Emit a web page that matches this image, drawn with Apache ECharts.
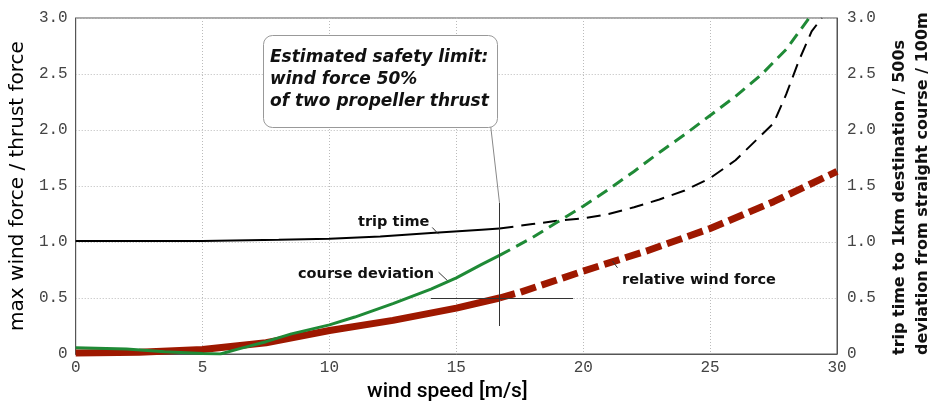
<!DOCTYPE html>
<html>
<head>
<meta charset="utf-8">
<script src="https://cdn.jsdelivr.net/npm/echarts@6/dist/echarts.min.js"></script>
<style>
  html, body { margin: 0; padding: 0; background: #fff; }
  #chart { width: 931px; height: 407px; }
</style>
</head>
<body>
<div id="chart"></div>
<script>
// values
var tripSpeed = [0, 5, 8, 10, 12, 14, 16, 16.7, 18, 19, 20, 21, 22, 23, 24, 25, 26, 27, 27.5, 28, 28.5, 29, 29.4];
var tripTime  = [1.01, 1.01, 1.02, 1.03, 1.05, 1.08, 1.11, 1.12, 1.16, 1.19, 1.21, 1.25, 1.31, 1.38, 1.46, 1.57, 1.73, 1.95, 2.06, 2.32, 2.62, 2.88, 3.0];

var devSpeed = [0, 2, 3.5, 5, 5.7, 6.5, 7.5, 8.5, 10, 11, 12.5, 14, 15, 16, 16.7, 18, 19, 20, 21, 22, 23, 24, 25, 26, 27, 28, 28.9];
var devValue = [0.055, 0.045, 0.02, 0.005, 0, 0.05, 0.11, 0.18, 0.26, 0.33, 0.45, 0.58, 0.68, 0.8, 0.88, 1.04, 1.18, 1.32, 1.47, 1.63, 1.8, 1.96, 2.13, 2.3, 2.49, 2.72, 3.0];

var forceSpeed = [0, 2.5, 5, 7.5, 10, 12.5, 15, 16.7, 17.5, 20, 22.5, 25, 27.5, 30];
var forceValue = [0.01, 0.015, 0.04, 0.1, 0.21, 0.3, 0.41, 0.5, 0.55, 0.74, 0.92, 1.12, 1.36, 1.63];

var limitSpeed = 16.7;   // solid up to here, dashed after
var xTicks = [0, 5, 10, 15, 20, 25, 30];

function part(xs, ys, solid) {
    var out = [];
    for (var i = 0; i < xs.length; i++) {
        if (solid ? xs[i] <= limitSpeed : xs[i] >= limitSpeed) out.push([xs[i], ys[i]]);
    }
    return out;
}

var green = '#1f8a36', red = '#9e1800';
var tickFont = { fontFamily: 'Liberation Mono', fontSize: 16, color: '#444' };

function yLabel(v) { return v === 0 ? '0' : v.toFixed(1); }

var chart = echarts.init(document.getElementById('chart'));
var option = {
    animation: false,
    grid: { left: 74, right: 94, top: 18, bottom: 50, show: true, borderColor: '#555', borderWidth: 1 },
    xAxis: {
        type: 'value', min: 0, max: 30, interval: 5,
        name: 'wind speed [m/s]', nameLocation: 'middle', nameGap: 27,
        nameTextStyle: { fontFamily: 'Roboto', fontWeight: 500, fontSize: 21, color: '#000', padding: [0, 18, 0, 0] },
        axisLine: { lineStyle: { color: '#555' } },
        axisTick: { show: false },
        axisLabel: Object.assign({ margin: 6, formatter: function (v) { return xTicks.indexOf(v) >= 0 ? String(v) : ''; } }, tickFont),
        splitLine: { lineStyle: { color: '#bbb', type: [1, 2] } }
    },
    yAxis: [{
        type: 'value', min: 0, max: 3, interval: 0.5,
        name: 'max wind force / thrust force', nameLocation: 'middle', nameGap: 47,
        nameTextStyle: { fontFamily: 'DejaVu Sans', fontSize: 20, color: '#000' },
        axisLine: { show: true, lineStyle: { color: '#555' } },
        axisTick: { show: false },
        axisLabel: Object.assign({ margin: 8, formatter: yLabel }, tickFont),
        splitLine: { lineStyle: { color: '#bbb', type: [1, 2] } }
    }, {
        type: 'value', min: 0, max: 3, interval: 0.5, position: 'right',
        axisLine: { show: true, lineStyle: { color: '#555' } },
        axisTick: { show: false },
        axisLabel: Object.assign({ margin: 10, formatter: yLabel }, tickFont),
        splitLine: { show: false }
    }],
    series: [
        { type: 'line', data: part(tripSpeed, tripTime, true), symbol: 'none', z: 3,
          lineStyle: { color: '#000', width: 2 } },
        { type: 'line', data: part(tripSpeed, tripTime, false), symbol: 'none', z: 3,
          lineStyle: { color: '#000', width: 2, type: [14, 8] } },
        { type: 'line', data: part(devSpeed, devValue, true), symbol: 'none', z: 4,
          lineStyle: { color: green, width: 3 } },
        { type: 'line', data: part(devSpeed, devValue, false), symbol: 'none', z: 4,
          lineStyle: { color: green, width: 3, type: [12, 7] } },
        { type: 'line', data: part(forceSpeed, forceValue, true), symbol: 'none', z: 2,
          lineStyle: { color: red, width: 7 } },
        { type: 'line', data: part(forceSpeed, forceValue, false), symbol: 'none', z: 2,
          lineStyle: { color: red, width: 7, type: [16, 6] } },
        { type: 'line', data: [], z: 6,
          markLine: {
              silent: true, symbol: 'none', label: { show: false },
              lineStyle: { color: '#333', width: 1, type: 'solid' },
              data: [
                  [{ coord: [limitSpeed, 0.25] }, { coord: [limitSpeed, 1.35] }],
                  [{ coord: [14, 0.5] }, { coord: [19.6, 0.5] }],
                  [{ coord: [16.35, 2.04], lineStyle: { color: '#888' } }, { coord: [limitSpeed, 1.35] }],
                  [{ coord: [14.05, 1.13] }, { coord: [14.3, 1.07] }],
                  [{ coord: [14.3, 0.73] }, { coord: [14.65, 0.655] }],
                  [{ coord: [21.35, 0.77] }, { coord: [21.15, 0.83] }]
              ]
          } }
    ],
    graphic: [
        { type: 'rect', left: 263, top: 35, z: 10,
          shape: { width: 234, height: 92, r: 9 },
          style: { fill: '#fff', stroke: '#999', lineWidth: 1 } },
        { type: 'text', x: 270, y: 58, z: 11,
          style: { text: 'Estimated safety limit:', font: 'italic bold 17px DejaVu Sans', fill: '#111', textVerticalAlign: 'middle' } },
        { type: 'text', x: 270, y: 80, z: 11,
          style: { text: 'wind force 50%', font: 'italic bold 17px DejaVu Sans', fill: '#111', textVerticalAlign: 'middle' } },
        { type: 'text', x: 270, y: 102, z: 11,
          style: { text: 'of two propeller thrust', font: 'italic bold 17px DejaVu Sans', fill: '#111', textVerticalAlign: 'middle' } },
        { type: 'text', x: 358, y: 222, z: 11,
          style: { text: 'trip time', font: 'bold 14.5px DejaVu Sans', fill: '#111', textVerticalAlign: 'middle' } },
        { type: 'text', x: 298, y: 274, z: 11,
          style: { text: 'course deviation', font: 'bold 14.5px DejaVu Sans', fill: '#111', textVerticalAlign: 'middle' } },
        { type: 'text', x: 622, y: 280, z: 11,
          style: { text: 'relative wind force', font: 'bold 14.5px DejaVu Sans', fill: '#111', textVerticalAlign: 'middle' } },
        { type: 'text', x: 900, y: 355, rotation: Math.PI / 2, z: 11,
          style: { text: 'trip time to 1km destination / 500s', font: 'bold 16px DejaVu Sans', fill: '#111',
                   textAlign: 'left', textVerticalAlign: 'middle' } },
        { type: 'text', x: 923, y: 355, rotation: Math.PI / 2, z: 11,
          style: { text: 'deviation from straight course / 100m', font: 'bold 16px DejaVu Sans', fill: '#111',
                   textAlign: 'left', textVerticalAlign: 'middle' } }
    ]
};
chart.setOption(option);
</script>
</body>
</html>
